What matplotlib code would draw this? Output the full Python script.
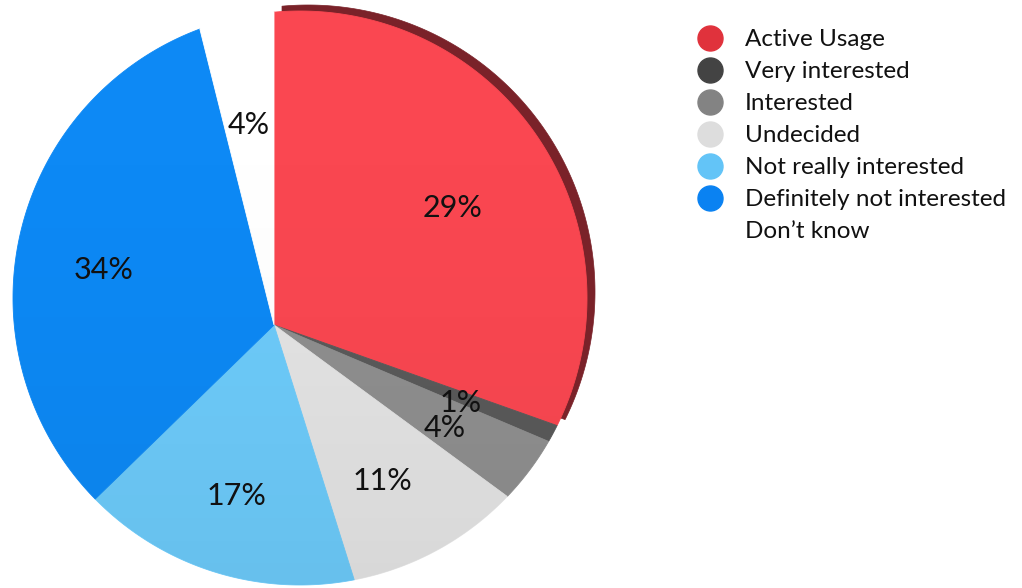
import numpy as np
import matplotlib.pyplot as plt
from matplotlib.patches import Polygon, Circle

plt.rcParams["font.family"] = ["Lato", "DejaVu Sans"]

# data
labels = [
    "Active Usage",
    "Very interested",
    "Interested",
    "Undecided",
    "Not really interested",
    "Definitely not interested",
    "Don\u2019t know",
]
shares = [29, 1, 4, 11, 17, 34, 4]
pct_labels = ["29%", "1%", "4%", "11%", "17%", "34%", "4%"]
slice_colors = ["#fa4751", "#5a5a5a", "#8f8f8f", "#e4e4e4", "#6dcbfa", "#0d89f5", "#ffffff"]
legend_colors = ["#e0323c", "#434343", "#838383", "#dddddd", "#63c4f7", "#0a82f2", "#ffffff"]

# layout (pixels)
W, H = 1022, 588
VX, VY = 274, 325          # apex of the slices (pie is seen in perspective)
CX, CY, R = 300, 298, 287  # outline of the pie face
SKEW = np.radians(5.5)     # perspective twist of the slice edges
LABEL_FRAC = 0.67


def warp(theta):
    return theta + SKEW * np.sin(theta) ** 2


def rim(theta):
    """Point where a ray from the apex (clockwise from 12 o'clock) meets the outline."""
    dx, dy = np.sin(theta), -np.cos(theta)
    ox, oy = VX - CX, VY - CY
    b = dx * ox + dy * oy
    c = ox * ox + oy * oy - R * R
    t = -b + np.sqrt(b * b - c)
    return VX + t * dx, VY + t * dy


fig = plt.figure(figsize=(W / 100, H / 100), dpi=100)
ax = fig.add_axes([0, 0, 1, 1])
ax.set_xlim(0, W)
ax.set_ylim(H, 0)
ax.set_aspect("equal")
ax.axis("off")

fractions = np.array(shares) / np.sum(shares)
bounds = np.concatenate([[0], np.cumsum(fractions)]) * 2 * np.pi

wedges = []
for i in range(len(shares)):
    th = warp(np.linspace(bounds[i], bounds[i + 1], 200))
    rx, ry = rim(th)
    pts = np.column_stack([np.r_[VX, rx], np.r_[VY, ry]])
    wedges.append(pts)

# extruded side of the first slice
side = wedges[0] + np.array([8, -6])
ax.add_patch(Polygon(side, closed=True, fc="#7a2229", ec="#7a2229", lw=0.5, zorder=1))

for pts, col in zip(wedges, slice_colors):
    ax.add_patch(Polygon(pts, closed=True, fc=col, ec=col, lw=0.6, zorder=2))

# soft shading towards the bottom of the face
face = Circle((CX, CY), R, transform=ax.transData)
shade = np.zeros((256, 1, 4))
shade[:, 0, 3] = 0.055 * np.linspace(0.0, 1.0, 256) ** 2
im = ax.imshow(shade, extent=(CX - R, CX + R, CY + R, CY - R), aspect="auto",
               zorder=3, interpolation="bilinear")
im.set_clip_path(face)
ax.set_xlim(0, W)
ax.set_ylim(H, 0)

# percentage labels
for i, txt in enumerate(pct_labels):
    mid = warp((bounds[i] + bounds[i + 1]) / 2)
    rx, ry = rim(mid)
    x = VX + LABEL_FRAC * (rx - VX)
    y = VY + LABEL_FRAC * (ry - VY) + 5
    ax.text(x, y, txt, ha="center", va="center", fontsize=22, color="#111111", zorder=5)

# legend
row0, step = 38, 32
for i, (lab, col) in enumerate(zip(labels, legend_colors)):
    y = row0 + i * step
    ax.plot(710, y, "o", ms=18, color=col, mec=col, zorder=5)
    ax.text(745, y + 8.5, lab, ha="left", va="baseline", fontsize=17.5, color="#111111")

fig.savefig("out.png", dpi=100)
